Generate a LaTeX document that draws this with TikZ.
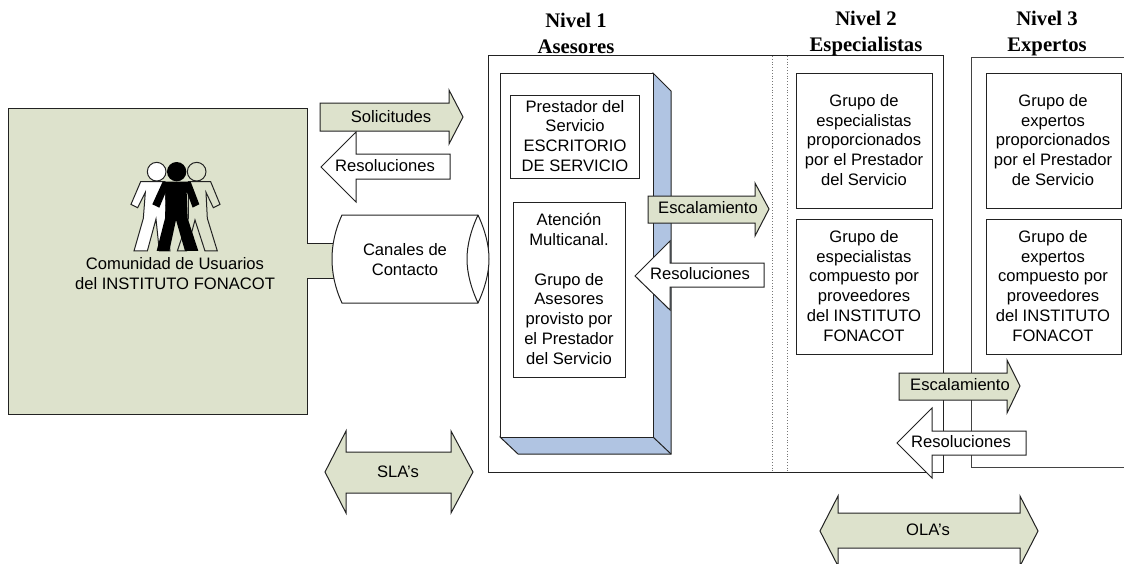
\documentclass[tikz,border=0pt]{standalone}
\usepackage{fontspec}
\setmainfont{Liberation Sans}
\newfontfamily\headfont{Liberation Serif}
\definecolor{sage}{HTML}{DDE2CC}
\definecolor{steel}{HTML}{B0C4E2}
\definecolor{ink}{HTML}{222222}
\definecolor{dots}{HTML}{777777}
\tikzset{
  outline/.style={draw=ink,line width=1pt,line join=miter},
  sagefill/.style={outline,fill=sage},
  whitefill/.style={outline,fill=white},
  steelfill/.style={outline,fill=steel},
  txt/.style={inner sep=0pt,align=center,text=black,font=\fontsize{16.6}{19.9}\selectfont},
  head/.style={inner sep=0pt,align=center,text=black,font=\headfont\bfseries\fontsize{20.7}{25.8}\selectfont},
  sepline/.style={draw=dots,line width=0.8pt,dotted}
}
\begin{document}
\begin{tikzpicture}[x=1pt,y=-1pt]
\useasboundingbox (0,0) rectangle (1124,563);
\clip (0,0) rectangle (1124,563);
% frames
\draw[outline] (488,55) rectangle (943,472);
\draw[outline,draw=ink!85] (1124,467) -- (971,467) -- (971,57) -- (1124,57);
\draw[sepline] (772,56) -- (772,471);
\draw[sepline] (787,56) -- (787,471);
% community block with tab
\draw[sagefill] (8,108) -- (307,108) -- (307,243) -- (336,243) -- (336,278) -- (307,278) -- (307,414) -- (8,414) -- cycle;
% people
\begin{scope}[shift={(120,155)},x=0.3333pt,y=-0.3333pt]
  \draw[whitefill,line width=1pt] (62,80) -- (135,80) -- (140,200) -- (150,288) -- (118,288) -- (108,192) -- (82,288) -- (42,288) -- (70,190) -- (76,112) -- (53,158) -- (33,148) -- cycle;
  \draw[whitefill,line width=1pt] (110,50) circle (28);
  \draw[sagefill,line width=1pt] (205,80) -- (272,80) -- (300,148) -- (280,158) -- (258,112) -- (262,190) -- (292,288) -- (255,288) -- (225,195) -- (200,288) -- (172,288) -- (205,190) -- cycle;
  \draw[sagefill,line width=1pt] (230,50) circle (28);
  \fill[black] (128,80) -- (212,80) -- (238,148) -- (218,158) -- (200,110) -- (203,190) -- (235,288) -- (195,288) -- (168,195) -- (148,288) -- (110,288) -- (135,190) -- (138,110) -- (118,158) -- (97,148) -- cycle;
  \fill[black] (170,50) circle (29);
\end{scope}
% cylinder
\draw[whitefill] (342,215) -- (478,215) .. controls (485,230) and (489,245) .. (489,259) .. controls (489,273) and (485,288) .. (478,303) -- (342,303) .. controls (335,288) and (332,273) .. (332,259) .. controls (332,245) and (335,230) .. (342,215) -- cycle;
\draw[outline] (478,215) .. controls (471,230) and (467,245) .. (467,259) .. controls (467,273) and (471,288) .. (478,303);
% level 1 block
\draw[steelfill] (653,73) -- (671,91) -- (671,454) -- (518,454) -- (500,437) -- cycle;
\draw[whitefill] (500,73) rectangle (653,437);
\draw[outline] (653,437) -- (671,454);
\draw[whitefill] (510,95) rectangle (639,178);
\draw[whitefill] (513,202) rectangle (625,377);
% level 2 & 3 boxes
\draw[whitefill] (796,73) rectangle (932,208);
\draw[whitefill] (796,219) rectangle (932,354);
\draw[whitefill] (986,73) rectangle (1121,208);
\draw[whitefill] (986,219) rectangle (1121,354);
% block arrows
\draw[whitefill] (321,167) -- (356,132) -- (356,154) -- (450,154) -- (450,179) -- (356,179) -- (356,202) -- cycle;
\draw[sagefill] (320,103) -- (449,103) -- (449,90) -- (463,117) -- (449,144) -- (449,131) -- (320,131) -- cycle;
\draw[sagefill] (648,196) -- (755,196) -- (755,183) -- (769,209) -- (755,236) -- (755,223) -- (648,223) -- cycle;
\draw[whitefill] (635,276) -- (670,241) -- (670,263) -- (764,263) -- (764,287) -- (670,287) -- (670,310) -- cycle;
\draw[sagefill] (899,373) -- (1007,373) -- (1007,360) -- (1020,386) -- (1007,413) -- (1007,400) -- (899,400) -- cycle;
\draw[whitefill] (897,443) -- (932,408) -- (932,431) -- (1026,431) -- (1026,455) -- (932,455) -- (932,478) -- cycle;
\draw[sagefill] (325,472) -- (346,431) -- (346,452) -- (451,452) -- (451,431) -- (473,472) -- (451,513) -- (451,493) -- (346,493) -- (346,513) -- cycle;
\draw[sagefill] (820,531) -- (838,496) -- (838,513) -- (1020,513) -- (1020,496) -- (1038,531) -- (1020,566) -- (1020,548) -- (838,548) -- (838,566) -- cycle;
% headings
\node[head] (h1) at (576,33.5) {Nivel 1\\Asesores};
\node[head] (h2) at (866,33.5) {Nivel 2\\Especialistas};
\node[head] (h3) at (1047,33.5) {Nivel 3\\Expertos};
% labels
\node[txt] (comm) at (175,274) {Comunidad de Usuarios\\del INSTITUTO FONACOT};
\node[txt] (sol) at (391,117) {Solicitudes};
\node[txt] (res1) at (385,166) {Resoluciones};
\node[txt] (canal) at (405,260) {Canales de\\Contacto};
\node[txt] (prest) at (575,136) {Prestador del\\Servicio\\ESCRITORIO\\DE SERVICIO};
\node[txt] (aten) at (569,289) {Atención\\Multicanal.\\\mbox{}\\Grupo de\\Asesores\\provisto por\\el Prestador\\del Servicio};
\node[txt] (esc1) at (708,208) {Escalamiento};
\node[txt] (res2) at (700,274) {Resoluciones};
\node[txt] (e1) at (864,140) {Grupo de\\especialistas\\proporcionados\\por el Prestador\\del Servicio};
\node[txt] (e2) at (864,286) {Grupo de\\especialistas\\compuesto por\\proveedores\\del INSTITUTO\\FONACOT};
\node[txt] (x1) at (1053,140) {Grupo de\\expertos\\proporcionados\\por el Prestador\\de Servicio};
\node[txt] (x2) at (1053,286) {Grupo de\\expertos\\compuesto por\\proveedores\\del INSTITUTO\\FONACOT};
\node[txt] (esc2) at (960,385) {Escalamiento};
\node[txt] (res3) at (961,442) {Resoluciones};
\node[txt] (sla) at (398,472) {SLA’s};
\node[txt] (ola) at (928,530) {OLA’s};
\end{tikzpicture}
\end{document}
